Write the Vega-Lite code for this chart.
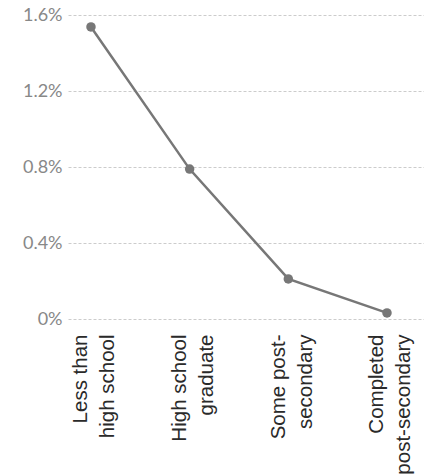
{
  "$schema": "https://vega.github.io/schema/vega-lite/v6.json",
  "autosize": "none",
  "width": 356,
  "height": 304,
  "padding": {"left": 68, "right": 0, "top": 15, "bottom": 157},
  "config": {"view": {"stroke": null}},
  "data": {
    "values": [
      {"edu": "Less than|high school", "order": 1, "rate": 0.01537},
      {"edu": "High school|graduate", "order": 2, "rate": 0.00789},
      {"edu": "Some post-|secondary", "order": 3, "rate": 0.00211},
      {"edu": "Completed|post-secondary", "order": 4, "rate": 0.00032}
    ]
  },
  "encoding": {
    "x": {
      "field": "edu",
      "type": "ordinal",
      "sort": {"field": "order"},
      "scale": {"type": "point", "padding": 0.304, "align": 0.383},
      "axis": {
        "title": null,
        "labelAngle": -90,
        "labelAlign": "right",
        "labelBaseline": "middle",
        "labelExpr": "split(datum.value, '|')",
        "labelFont": "Liberation Sans",
        "labelFontSize": 20.5,
        "labelLineHeight": 27,
        "labelColor": "#2a2a2a",
        "labelPadding": 15,
        "labelOffset": -10,
        "ticks": false,
        "domain": false,
        "grid": false
      }
    },
    "y": {
      "field": "rate",
      "type": "quantitative",
      "scale": {"domain": [0, 0.016], "nice": false},
      "axis": {
        "title": null,
        "values": [0, 0.004, 0.008, 0.012, 0.016],
        "format": ".1~%",
        "labelFont": "Lato",
        "labelFontSize": 18,
        "labelColor": "#888888",
        "labelPadding": 6,
        "ticks": false,
        "domain": false,
        "grid": true,
        "gridColor": "#cccccc",
        "gridDash": [3, 2],
        "gridWidth": 1
      }
    }
  },
  "layer": [
    {"mark": {"type": "line", "color": "#777777", "strokeWidth": 2.5}},
    {"mark": {"type": "point", "filled": true, "opacity": 1, "color": "#777777", "size": 90}}
  ]
}
